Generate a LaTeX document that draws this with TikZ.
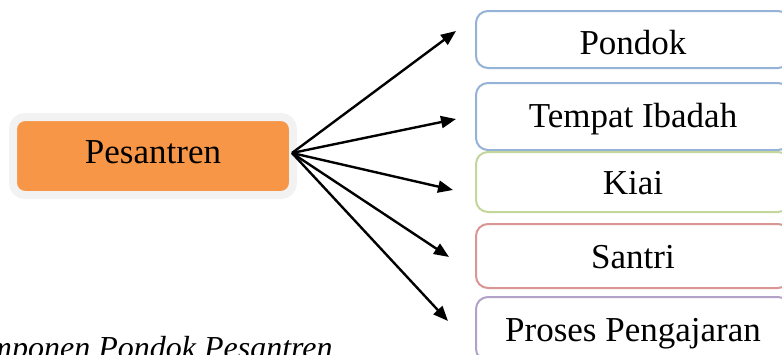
\documentclass[tikz,border=0pt]{standalone}
\usepackage{fontspec}
\setmainfont{Liberation Serif}
\usepackage{tikz}
\usetikzlibrary{positioning}
\usetikzlibrary{shapes,arrows,calc,arrows.meta}

\definecolor{pesorange}{HTML}{F79646}
\definecolor{pesgray}{HTML}{F2F2F2}
\definecolor{boxblue}{HTML}{95B3D7}
\definecolor{boxgreen}{HTML}{C3D69B}
\definecolor{boxred}{HTML}{D99694}
\definecolor{boxpurple}{HTML}{B3A2C7}

\tikzset{
  mainbox/.style={draw=pesgray, line width=4pt, fill=pesorange, rounded corners=6pt,
    minimum width=140pt, minimum height=39pt, text height=10pt, text depth=3pt,
    font=\fontsize{17.5}{21}\selectfont},
  partbox/.style={draw=#1, line width=1pt, fill=white, rounded corners=6pt,
    anchor=west, minimum width=157pt, text height=13pt, text depth=1pt,
    font=\fontsize{17.5}{21}\selectfont},
  link/.style={-{Triangle[length=7.5pt,width=6pt]}, line width=1.2pt}
}

\begin{document}
\begin{tikzpicture}[x=0.5pt, y=-0.5pt]
  \clip (0,0) rectangle (782,354);
  \fill [white] (0,0) rectangle (782,354);

  % Nodes
  \node [mainbox] (pesantren) at (153,156) {Pesantren};
  \node [partbox=boxblue, minimum height=28.5pt, text height=16pt] (pondok) at (475,39.5) {Pondok};
  \node [partbox=boxblue, minimum height=33.5pt, text height=11.5pt] (ibadah) at (475,116.5) {Tempat Ibadah};
  \node [partbox=boxgreen, minimum height=30pt] (kiai) at (475,182) {Kiai};
  \node [partbox=boxred, minimum height=32pt] (santri) at (475,256) {Santri};
  \node [partbox=boxpurple, minimum height=32pt] (proses) at (475,329) {Proses Pengajaran};

  % Caption
  \node [anchor=base east, inner sep=0pt, font=\fontsize{16}{19}\selectfont\itshape] (caption)
    at (333,358) {Komponen Pondok Pesantren};

  % Arrow ends
  \coordinate (hub) at (292,153);
  \coordinate (tpondok) at (456,31);
  \coordinate (tibadah) at (456,119);
  \coordinate (tkiai) at (453,190);
  \coordinate (tsantri) at (449,257);
  \coordinate (tproses) at (448,321);

  % Arrows
  \foreach \tip in {tpondok, tibadah, tkiai, tsantri, tproses}
    \draw [link] (hub) -- (\tip);
\end{tikzpicture}
\end{document}
